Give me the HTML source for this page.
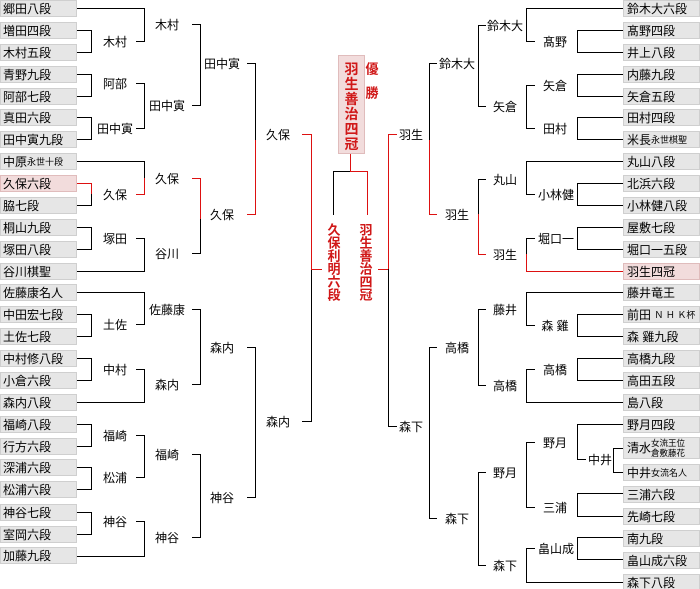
<!DOCTYPE html>
<html><head><meta charset="utf-8"><style>
html,body{margin:0;padding:0;background:#fff;width:700px;height:589px;overflow:hidden}
svg{display:block}
text{font-family:"Liberation Sans","Noto Sans CJK JP",sans-serif;font-size:12px;fill:#000;dominant-baseline:central}
.b{fill:#e6e6e6;stroke:#cfcfcf;stroke-width:1}
.h{fill:#f2dcdc;stroke:#e0bcbc;stroke-width:1}
.k{fill:none;stroke:#000;stroke-width:1}
.r{fill:none;stroke:#dd1111;stroke-width:1}
.m{text-anchor:middle}
.rt{fill:#d01818;font-weight:bold;text-anchor:middle}
.s{font-size:9px}
</style></head><body>
<svg width="700" height="589" viewBox="0 0 700 589" shape-rendering="crispEdges">
<!-- left boxes -->
<g>
<rect class="b" x="0.5" y="0.5" width="76" height="16"/>
<rect class="b" x="0.5" y="22.5" width="76" height="16"/>
<rect class="b" x="0.5" y="44.5" width="76" height="16"/>
<rect class="b" x="0.5" y="66.5" width="76" height="16"/>
<rect class="b" x="0.5" y="88.5" width="76" height="16"/>
<rect class="b" x="0.5" y="109.5" width="76" height="16"/>
<rect class="b" x="0.5" y="131.5" width="76" height="16"/>
<rect class="b" x="0.5" y="153.5" width="76" height="16"/>
<rect class="h" x="0.5" y="175.5" width="76" height="16"/>
<rect class="b" x="0.5" y="197.5" width="76" height="16"/>
<rect class="b" x="0.5" y="219.5" width="76" height="16"/>
<rect class="b" x="0.5" y="241.5" width="76" height="16"/>
<rect class="b" x="0.5" y="263.5" width="76" height="16"/>
<rect class="b" x="0.5" y="284.5" width="76" height="16"/>
<rect class="b" x="0.5" y="306.5" width="76" height="16"/>
<rect class="b" x="0.5" y="328.5" width="76" height="16"/>
<rect class="b" x="0.5" y="350.5" width="76" height="16"/>
<rect class="b" x="0.5" y="372.5" width="76" height="16"/>
<rect class="b" x="0.5" y="394.5" width="76" height="16"/>
<rect class="b" x="0.5" y="416.5" width="76" height="16"/>
<rect class="b" x="0.5" y="438.5" width="76" height="16"/>
<rect class="b" x="0.5" y="459.5" width="76" height="16"/>
<rect class="b" x="0.5" y="481.5" width="76" height="16"/>
<rect class="b" x="0.5" y="504.5" width="76" height="16"/>
<rect class="b" x="0.5" y="526.5" width="76" height="16"/>
<rect class="b" x="0.5" y="547.5" width="76" height="16"/>
</g>
<g>
<text x="3" y="9">郷田八段</text>
<text x="3" y="31">増田四段</text>
<text x="3" y="53">木村五段</text>
<text x="3" y="75">青野九段</text>
<text x="3" y="97">阿部七段</text>
<text x="3" y="118">真田六段</text>
<text x="3" y="140">田中寅九段</text>
<text x="3" y="162">中原<tspan class="s">永世十段</tspan></text>
<text x="3" y="184">久保六段</text>
<text x="3" y="206">脇七段</text>
<text x="3" y="228">桐山九段</text>
<text x="3" y="250">塚田八段</text>
<text x="3" y="272">谷川棋聖</text>
<text x="3" y="293">佐藤康名人</text>
<text x="3" y="315">中田宏七段</text>
<text x="3" y="337">土佐七段</text>
<text x="3" y="359">中村修八段</text>
<text x="3" y="381">小倉六段</text>
<text x="3" y="403">森内八段</text>
<text x="3" y="425">福崎八段</text>
<text x="3" y="447">行方六段</text>
<text x="3" y="468">深浦六段</text>
<text x="3" y="490">松浦六段</text>
<text x="3" y="513">神谷七段</text>
<text x="3" y="535">室岡六段</text>
<text x="3" y="556">加藤九段</text>
</g>
<!-- right boxes -->
<g>
<rect class="b" x="623.5" y="0.5" width="76" height="16"/>
<rect class="b" x="623.5" y="22.5" width="76" height="16"/>
<rect class="b" x="623.5" y="44.5" width="76" height="16"/>
<rect class="b" x="623.5" y="66.5" width="76" height="16"/>
<rect class="b" x="623.5" y="88.5" width="76" height="16"/>
<rect class="b" x="623.5" y="109.5" width="76" height="16"/>
<rect class="b" x="623.5" y="131.5" width="76" height="16"/>
<rect class="b" x="623.5" y="153.5" width="76" height="16"/>
<rect class="b" x="623.5" y="175.5" width="76" height="16"/>
<rect class="b" x="623.5" y="197.5" width="76" height="16"/>
<rect class="b" x="623.5" y="219.5" width="76" height="16"/>
<rect class="b" x="623.5" y="241.5" width="76" height="16"/>
<rect class="h" x="623.5" y="263.5" width="76" height="16"/>
<rect class="b" x="623.5" y="284.5" width="76" height="16"/>
<rect class="b" x="623.5" y="306.5" width="76" height="16"/>
<rect class="b" x="623.5" y="328.5" width="76" height="16"/>
<rect class="b" x="623.5" y="350.5" width="76" height="16"/>
<rect class="b" x="623.5" y="372.5" width="76" height="16"/>
<rect class="b" x="623.5" y="394.5" width="76" height="16"/>
<rect class="b" x="623.5" y="416.5" width="76" height="16"/>
<rect class="b" x="623.5" y="437.5" width="76" height="21"/>
<rect class="b" x="623.5" y="464.5" width="76" height="16"/>
<rect class="b" x="623.5" y="486.5" width="76" height="16"/>
<rect class="b" x="623.5" y="508.5" width="76" height="16"/>
<rect class="b" x="623.5" y="530.5" width="76" height="16"/>
<rect class="b" x="623.5" y="552.5" width="76" height="16"/>
<rect class="b" x="623.5" y="574.5" width="76" height="16"/>
</g>
<g>
<text x="627" y="9">鈴木大六段</text>
<text x="627" y="31">髙野四段</text>
<text x="627" y="53">井上八段</text>
<text x="627" y="75">内藤九段</text>
<text x="627" y="97">矢倉五段</text>
<text x="627" y="118">田村四段</text>
<text x="627" y="140">米長<tspan class="s">永世棋聖</tspan></text>
<text x="627" y="162">丸山八段</text>
<text x="627" y="184">北浜六段</text>
<text x="627" y="206">小林健八段</text>
<text x="627" y="228">屋敷七段</text>
<text x="627" y="250">堀口一五段</text>
<text x="627" y="272">羽生四冠</text>
<text x="627" y="293">藤井竜王</text>
<text x="627" y="315">前田 <tspan class="s">Ｎ Ｈ Ｋ杯</tspan></text>
<text x="627" y="337">森 雞九段</text>
<text x="627" y="359">高橋九段</text>
<text x="627" y="381">高田五段</text>
<text x="627" y="403">島八段</text>
<text x="627" y="425">野月四段</text>
<text x="627" y="448">清水</text>
<text x="651" y="443" class="s" style="font-size:8.5px">女流王位</text>
<text x="651" y="453" class="s" style="font-size:8.5px">倉敷藤花</text>
<text x="627" y="473">中井<tspan class="s">女流名人</tspan></text>
<text x="627" y="495">三浦六段</text>
<text x="627" y="517">先崎七段</text>
<text x="627" y="539">南九段</text>
<text x="627" y="561">畠山成六段</text>
<text x="627" y="583">森下八段</text>
</g>
<!-- left black lines -->
<path class="k" d="
M77 30.5H91.5V52.5H77 M77 74.5H91.5V96.5H77 M77 117.5H91.5V139.5H77
M91.5 194V205.5H77 M77 227.5H91.5V249.5H77 M77 314.5H91.5V336.5H77
M77 358.5H91.5V380.5H77 M77 424.5H91.5V446.5H77 M77 467.5H91.5V489.5H77 M77 512.5H91.5V534.5H77
M77 8.5H144.5V41.5H136 M136 83.5H144.5V128.5H136 M77 161.5H144.5V178
M136 238.5H144.5V271.5H77 M77 292.5H144.5V324.5H136 M136 369.5H144.5V402.5H77
M136 435.5H144.5V477.5H136 M136 521.5H144.5V556.5H77
M192 24.5H200.5V105.5H192 M200.5 219V253.5H192 M192 309.5H200.5V384.5H192 M192 454.5H200.5V537.5H192
M247 63.5H255.5V140 M247 347.5H255.5V497.5H247
M311.5 269V421.5H302
M350.5 171.5H333.5V215
"/>
<path class="r" d="
M77 183.5H91.5V194 M136 194.5H144.5V178 M192 178.5H200.5V219 M247 214.5H255.5V140
M302 134.5H311.5V269 M311 269.5H322
M350.5 154V171.5H367.5V215
M388.5 269V134.5H397 M378 269.5H388
M437 214.5H429.5V140 M486 254.5H478.5V214 M623 271.5H526.5V254
"/>
<!-- right black lines -->
<path class="k" d="
M623 30.5H577.5V52.5H623 M623 74.5H577.5V96.5H623 M623 117.5H577.5V139.5H623
M623 183.5H577.5V205.5H623 M623 227.5H577.5V249.5H623 M623 314.5H577.5V336.5H623
M623 358.5H577.5V380.5H623 M623 448.5H613.5V472.5H623 M623 424.5H577.5V459.5H586
M623 493.5H577.5V516.5H623 M623 537.5H577.5V559.5H623
M623 8.5H526.5V41.5H535 M535 85.5H526.5V128.5H535 M623 161.5H526.5V194.5H535
M535 238.5H526.5V254 M623 292.5H526.5V325.5H535 M535 369.5H526.5V402.5H623
M535 442.5H526.5V507.5H535 M535 548.5H526.5V582.5H623
M486 25.5H478.5V106.5H486 M486 179.5H478.5V214 M486 309.5H478.5V385.5H486 M486 472.5H478.5V565.5H486
M437 63.5H429.5V140 M437 347.5H429.5V518.5H437
M388.5 269V426.5H397
"/>
<!-- left labels -->
<g class="m">
<text class="m" x="115" y="42">木村</text>
<text class="m" x="115" y="84">阿部</text>
<text class="m" x="115" y="129">田中寅</text>
<text class="m" x="115" y="195">久保</text>
<text class="m" x="115" y="239">塚田</text>
<text class="m" x="115" y="325">土佐</text>
<text class="m" x="115" y="370">中村</text>
<text class="m" x="115" y="436">福崎</text>
<text class="m" x="115" y="478">松浦</text>
<text class="m" x="115" y="522">神谷</text>
<text class="m" x="167" y="25">木村</text>
<text class="m" x="167" y="106">田中寅</text>
<text class="m" x="167" y="179">久保</text>
<text class="m" x="167" y="254">谷川</text>
<text class="m" x="167" y="310">佐藤康</text>
<text class="m" x="167" y="385">森内</text>
<text class="m" x="167" y="455">福崎</text>
<text class="m" x="167" y="538">神谷</text>
<text class="m" x="222" y="64">田中寅</text>
<text class="m" x="222" y="215">久保</text>
<text class="m" x="222" y="348">森内</text>
<text class="m" x="222" y="498">神谷</text>
<text class="m" x="278" y="135">久保</text>
<text class="m" x="278" y="422">森内</text>
</g>
<!-- right labels -->
<g>
<text class="m" x="555" y="42">髙野</text>
<text class="m" x="555" y="86">矢倉</text>
<text class="m" x="555" y="129">田村</text>
<text class="m" x="556" y="195">小林健</text>
<text class="m" x="556" y="239">堀口一</text>
<text class="m" x="555" y="326">森 雞</text>
<text class="m" x="555" y="370">高橋</text>
<text class="m" x="555" y="443">野月</text>
<text class="m" x="555" y="508">三浦</text>
<text class="m" x="556" y="549">畠山成</text>
<text class="m" x="600" y="460">中井</text>
<text class="m" x="505" y="26">鈴木大</text>
<text class="m" x="505" y="107">矢倉</text>
<text class="m" x="505" y="180">丸山</text>
<text class="m" x="505" y="255">羽生</text>
<text class="m" x="505" y="310">藤井</text>
<text class="m" x="505" y="386">高橋</text>
<text class="m" x="505" y="473">野月</text>
<text class="m" x="505" y="566">森下</text>
<text class="m" x="457" y="64">鈴木大</text>
<text class="m" x="457" y="215">羽生</text>
<text class="m" x="457" y="348">高橋</text>
<text class="m" x="457" y="519">森下</text>
<text class="m" x="411" y="135">羽生</text>
<text class="m" x="411" y="427">森下</text>
</g>
<!-- champion -->
<rect class="h" x="338.5" y="55.5" width="26" height="98"/>
<g style="font-size:14px">
<text class="rt" x="351.5" y="69" style="font-size:14px">羽</text>
<text class="rt" x="351.5" y="84" style="font-size:14px">生</text>
<text class="rt" x="351.5" y="99" style="font-size:14px">善</text>
<text class="rt" x="351.5" y="114" style="font-size:14px">治</text>
<text class="rt" x="351.5" y="129" style="font-size:14px">四</text>
<text class="rt" x="351.5" y="144" style="font-size:14px">冠</text>
</g>
<text class="rt" x="372" y="69" style="font-size:13px">優</text>
<text class="rt" x="372" y="93" style="font-size:13px">勝</text>
<text class="rt" x="334" y="230" style="font-size:13px">久</text>
<text class="rt" x="334" y="243" style="font-size:13px">保</text>
<text class="rt" x="334" y="256" style="font-size:13px">利</text>
<text class="rt" x="334" y="269" style="font-size:13px">明</text>
<text class="rt" x="334" y="282" style="font-size:13px">六</text>
<text class="rt" x="334" y="295" style="font-size:13px">段</text>
<text class="rt" x="366" y="230" style="font-size:13px">羽</text>
<text class="rt" x="366" y="243" style="font-size:13px">生</text>
<text class="rt" x="366" y="256" style="font-size:13px">善</text>
<text class="rt" x="366" y="269" style="font-size:13px">治</text>
<text class="rt" x="366" y="282" style="font-size:13px">四</text>
<text class="rt" x="366" y="295" style="font-size:13px">冠</text>
</svg>
</body></html>
